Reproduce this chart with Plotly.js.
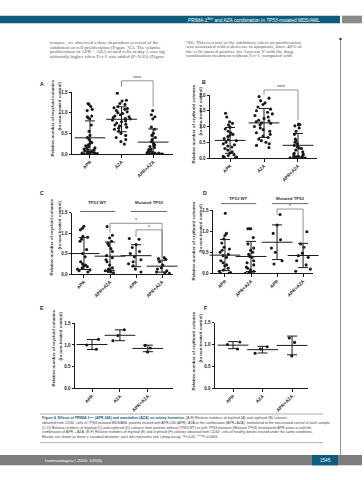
<!DOCTYPE html>
<html><head><meta charset="utf-8">
<script src="https://cdn.plot.ly/plotly-3.0.1.min.js"></script>
<style>html,body{margin:0;padding:0;background:#fff;}#chart{width:364px;height:480px;}</style>
</head><body><div id="chart"></div>
<script>
// ---------------- DATA ----------------
const labels3 = ["APR", "AZA", "APR+AZA"];
const labels4 = ["APR", "APR+AZA", "APR", "APR+AZA"];
const groupLabels = ["TP53 WT", "Mutated TP53"];

// A: myeloid colonies, TP53-mutated samples
const A_APR  = [1.22,1.20,1.15,1.08,1.05,0.92,0.90,0.88,0.85,0.70,0.55,0.45,0.40,0.35,0.30,0.28,0.25,0.22,0.20,0.18,0.15,0.14,0.12,0.10,0.10,0.08,0.07,0.05,0.05,0.04,0.03,0.02,0.02,0.01,0.00,0.00];
const A_AZA  = [1.47,1.30,1.28,1.22,1.20,1.15,1.12,1.10,1.08,1.05,1.02,1.00,0.98,0.95,0.92,0.90,0.88,0.86,0.85,0.82,0.80,0.78,0.75,0.72,0.70,0.68,0.65,0.62,0.60,0.55,0.50,0.45,0.40,0.35,0.30,0.24];
const A_COMB = [1.05,0.95,0.90,0.85,0.65,0.60,0.50,0.45,0.40,0.35,0.30,0.25,0.22,0.20,0.18,0.15,0.12,0.10,0.10,0.08,0.06,0.05,0.04,0.03,0.02,0.02,0.01,0.00,0.00,0.00];
// B: erythroid colonies, TP53-mutated samples
const B_APR  = [1.42,1.30,1.15,1.10,1.05,0.98,0.92,0.85,0.80,0.75,0.72,0.68,0.62,0.58,0.55,0.50,0.45,0.42,0.38,0.35,0.30,0.25,0.20,0.15,0.10,0.08,0.05,0.03,0.02,0.00];
const B_AZA  = [1.95,1.90,1.82,1.75,1.70,1.62,1.55,1.50,1.45,1.40,1.35,1.30,1.25,1.20,1.18,1.15,1.12,1.10,1.05,1.00,0.95,0.90,0.85,0.80,0.75,0.70,0.65,0.60,0.55,0.50,0.45,0.40,0.33];
const B_COMB = [1.08,1.06,1.05,1.02,0.95,0.85,0.75,0.60,0.55,0.50,0.45,0.40,0.35,0.32,0.30,0.25,0.20,0.15,0.12,0.10,0.08,0.05,0.04,0.03,0.02,0.01,0.00,0.00];
// C: myeloid colonies, TP53 WT vs mutated
const C_WT_APR   = [1.17,1.12,1.08,0.92,0.90,0.85,0.80,0.60,0.50,0.42,0.30,0.25,0.22,0.20,0.18,0.15,0.12,0.10,0.08,0.05];
const C_WT_COMB  = [1.16,0.95,0.88,0.80,0.75,0.70,0.62,0.55,0.45,0.40,0.35,0.30,0.22,0.15,0.12,0.10,0.08,0.06,0.05,0.03];
const C_MUT_APR  = [0.87,0.85,0.72,0.65,0.55,0.50,0.42,0.35,0.30,0.25,0.20,0.12,0.05];
const C_MUT_COMB = [0.40,0.38,0.36,0.30,0.22,0.15,0.12,0.08,0.05,0.03,0.02];
// D: erythroid colonies, TP53 WT vs mutated
const D_WT_APR   = [1.43,0.95,0.90,0.82,0.72,0.62,0.58,0.55,0.50,0.45,0.42,0.38,0.30,0.25,0.20,0.18,0.12,0.08,0.05,0.02,0.00,0.00];
const D_WT_COMB  = [1.06,1.06,1.06,0.85,0.70,0.60,0.55,0.50,0.45,0.40,0.38,0.30,0.25,0.20,0.15,0.12,0.08,0.05,0.03,0.02,0.00,0.00];
const D_MUT_APR  = [1.40,1.15,0.95,0.80,0.60,0.50,0.30,0.22];
const D_MUT_COMB = [0.99,0.70,0.62,0.48,0.42,0.38,0.30,0.20,0.10,0.05];
// E: myeloid colonies, healthy donors
const E_APR  = [1.13,1.00,0.90];
const E_AZA  = [1.35,1.22,1.10];
const E_COMB = [0.99,0.93,0.84];
// F: erythroid colonies, healthy donors
const F_APR  = [1.06,1.00,0.90];
const F_AZA  = [0.95,0.90,0.80];
const F_COMB = [1.15,1.05,0.74];

// ---------------- LAYOUT HELPERS ----------------
const W = 364, H = 480;
const px = x => x / W;
const py = y => 1 - y / H;
const FONT = "Liberation Sans, Arial, sans-serif";
const SERIF = "Liberation Serif, Times New Roman, serif";
const INK = "#1a1a1a";
const TEAL = "#0f5d7c";

const myeloid = "Relative number of myeloid colonies";
const erythroid = "Relative number of erythroid colonies";
const ctrl = "(to non-treated control)";

const panels = [
  {letter:"A", lp:[42,84], labels:labels3, groups:[A_APR,A_AZA,A_COMB], xpx:[72,173], ypx:[154,92], xr:[-0.57,2.63], yr:[0,1.5], tv:[0,0.5,1,1.5], t1:myeloid, tx:[52,59], tt:78,
   brackets:[{x0:1,x1:2,y:1.77,e0:1.62,e1:1.14,s:"****"}]},
  {letter:"B", lp:[204,82], labels:labels3, groups:[B_APR,B_AZA,B_COMB], xpx:[210,317], ypx:[158,95], xr:[-0.59,2.56], yr:[0,2], tv:[0,0.5,1,1.5,2], t1:erythroid, tx:[193,200], tt:83,
   brackets:[{x0:1,x1:2,y:2.16,e0:2.0,e1:1.21,s:"****"}]},
  {letter:"C", lp:[42,193], labels:labels4, groups:[C_WT_APR,C_WT_COMB,C_MUT_APR,C_MUT_COMB], xpx:[72,173], ypx:[274,212.7], xr:[-0.46,3.42], yr:[0,1.5], tv:[0,0.5,1,1.5], t1:myeloid, tx:[51,59], tt:197,
   brackets:[{x0:1,x1:3,y:1.24,e0:1.0,e1:0.39,s:"*"},{x0:2,x1:3,y:1.08,e0:0.91,e1:0.39,s:"*"}], glab:{ty:1.75, ly:1.53}},
  {letter:"D", lp:[205,193], labels:labels4, groups:[D_WT_APR,D_WT_COMB,D_MUT_APR,D_MUT_COMB], xpx:[213,313], ypx:[273.3,210.3], xr:[-0.46,3.38], yr:[0,1.5], tv:[0,0.5,1,1.5], t1:erythroid, tx:[193,200], tt:200,
   brackets:[{x0:2,x1:3,y:1.53,e0:1.39,e1:0.58,s:"*"}], glab:{ty:1.78, ly:1.66}},
  {letter:"E", lp:[42,308], labels:labels3, groups:[E_APR,E_AZA,E_COMB], xpx:[75,173], ypx:[388.3,323.3], xr:[-0.61,2.9], yr:[0,1.5], tv:[0,0.5,1,1.5], t1:myeloid, tx:[53,60], tt:308, brackets:[]},
  {letter:"F", lp:[205,308], labels:labels3, groups:[F_APR,F_AZA,F_COMB], xpx:[215,308], ypx:[388.3,322.7], xr:[-0.61,2.54], yr:[0,1.5], tv:[0,0.5,1,1.5], t1:erythroid, tx:[193,200], tt:310, brackets:[]}
];

const mean = a => a.reduce((s,v)=>s+v,0)/a.length;
const sd = a => { const m = mean(a); return Math.sqrt(a.reduce((s,v)=>s+(v-m)*(v-m),0)/(a.length-1)); };

const traces = [];
const layout = {
  width: W, height: H, margin:{l:0,r:0,t:0,b:0}, paper_bgcolor:"#fff", plot_bgcolor:"rgba(0,0,0,0)",
  showlegend:false, font:{family:FONT, color:INK}, shapes:[], annotations:[]
};

panels.forEach((p, i) => {
  const k = i === 0 ? "" : String(i+1);
  const xp = v => px(p.xpx[0] + (v - p.xr[0])/(p.xr[1]-p.xr[0])*(p.xpx[1]-p.xpx[0]));
  const yp = v => py(p.ypx[0] - (v - p.yr[0])/(p.yr[1]-p.yr[0])*(p.ypx[0]-p.ypx[1]));
  const xs = [], ys = [];
  p.groups.forEach((g, gi) => g.forEach(v => { xs.push(gi); ys.push(v); }));
  traces.push({type:"box", x:xs, y:ys, xaxis:"x"+k, yaxis:"y"+k, width:0.7,
    boxpoints:"all", jitter:0.85, pointpos:0, fillcolor:"rgba(0,0,0,0)",
    line:{width:0, color:"rgba(0,0,0,0)"}, marker:{color:INK, size:3.1}, hoverinfo:"skip"});
  const means = p.groups.map(mean), sds = p.groups.map(sd);
  traces.push({type:"scatter", mode:"markers", x:p.groups.map((g,gi)=>gi), y:means, xaxis:"x"+k, yaxis:"y"+k,
    cliponaxis:false, hoverinfo:"skip",
    marker:{symbol:"line-ew", size:22, color:INK, line:{width:1, color:INK}},
    error_y:{type:"data", symmetric:false, array:sds, arrayminus:sds.map((s,j)=>Math.min(s, means[j]-p.yr[0])), width:5, thickness:1, color:INK}});

  layout["xaxis"+k] = {domain:[px(p.xpx[0]), px(p.xpx[1])], anchor:"y"+k, range:p.xr, showline:true, linecolor:INK, linewidth:1,
    ticks:"outside", ticklen:2.5, tickwidth:1, tickcolor:INK, tickvals:p.labels.map((l,j)=>j), ticktext:p.labels, tickangle:-45,
    tickfont:{size:4.6, family:FONT, color:INK, weight:"bold"}, showgrid:false, zeroline:false, fixedrange:true};
  layout["yaxis"+k] = {domain:[py(p.ypx[0]), py(p.ypx[1])], anchor:"x"+k, range:p.yr, showline:true, linecolor:INK, linewidth:1,
    ticks:"outside", ticklen:2.5, tickwidth:1, tickcolor:INK, tickvals:p.tv, tickformat:".1f",
    tickfont:{size:4.6, family:FONT, color:INK, weight:"bold"}, showgrid:false, zeroline:false, fixedrange:true};

  // panel letter
  layout.annotations.push({xref:"paper", yref:"paper", x:px(p.lp[0]), y:py(p.lp[1]), text:"<b>"+p.letter+"</b>", showarrow:false, font:{size:5.2, family:FONT, color:INK}, xanchor:"center", yanchor:"middle"});
  // y titles
  layout.annotations.push({xref:"paper", yref:"paper", x:px(p.tx[0]), y:py(p.tt), text:"<b>"+p.t1+"</b>", textangle:-90, showarrow:false, font:{size:4.4, family:FONT, color:"#333"}, xanchor:"center", yanchor:"top"});
  layout.annotations.push({xref:"paper", yref:"paper", x:px(p.tx[1]), y:py(p.tt+2), text:"<b>"+ctrl+"</b>", textangle:-90, showarrow:false, font:{size:4.4, family:FONT, color:"#333"}, xanchor:"center", yanchor:"top"});
  // significance brackets
  p.brackets.forEach(b => {
    const ln = {type:"line", xref:"paper", yref:"paper", line:{color:"#666", width:0.7}};
    layout.shapes.push(Object.assign({}, ln, {x0:xp(b.x0), x1:xp(b.x1), y0:yp(b.y), y1:yp(b.y)}));
    layout.shapes.push(Object.assign({}, ln, {x0:xp(b.x0), x1:xp(b.x0), y0:yp(b.y), y1:yp(b.e0)}));
    layout.shapes.push(Object.assign({}, ln, {x0:xp(b.x1), x1:xp(b.x1), y0:yp(b.y), y1:yp(b.e1)}));
    layout.annotations.push({xref:"paper", yref:"paper", x:(xp(b.x0)+xp(b.x1))/2, y:yp(b.y), text:b.s, showarrow:false, font:{size:5.2, family:FONT, color:"#444"}, xanchor:"center", yanchor:"bottom", yshift:-2});
  });
  // group labels
  if (p.glab) {
    [[-0.15,1.2],[1.8,3.2]].forEach((r, gi) => {
      layout.shapes.push({type:"line", xref:"paper", yref:"paper", x0:xp(r[0]), x1:xp(r[1]), y0:yp(p.glab.ly), y1:yp(p.glab.ly), line:{color:"#444", width:0.8}});
      layout.annotations.push({xref:"paper", yref:"paper", x:(xp(r[0])+xp(r[1]))/2, y:yp(p.glab.ty), text:"<b>"+groupLabels[gi]+"</b>", showarrow:false, font:{size:4.3, family:FONT, color:"#333"}, xanchor:"center", yanchor:"middle"});
    });
  }
});

// ---------------- PAGE FURNITURE ----------------
const rect = (x0,y0,x1,y1,c) => ({type:"rect", xref:"paper", yref:"paper", x0:px(x0), x1:px(x1), y0:py(y1), y1:py(y0), fillcolor:c, line:{width:0}, layer:"below"});
const hline = (x0,x1,y,c,w) => ({type:"line", xref:"paper", yref:"paper", x0:px(x0), x1:px(x1), y0:py(y), y1:py(y), line:{color:c, width:w}});
const txt = (x,y,t,opt) => Object.assign({xref:"paper", yref:"paper", x:px(x), y:py(y), text:t, showarrow:false, xanchor:"left", yanchor:"middle", font:{size:4.6, family:SERIF, color:"#555"}}, opt||{});

layout.shapes.push(rect(0,15.7,340,23.3,TEAL));
layout.shapes.push(rect(342,15.7,362,23.3,"#8a8a8a"));
layout.annotations.push(txt(322,19.6,"PRIMA-1<sup>Met</sup> and AZA combination in <i>TP53</i>-mutated MDS/AML",{xanchor:"right", font:{size:4.8, family:FONT, color:"#fff"}}));

// right margin rule with dot
layout.shapes.push({type:"line", xref:"paper", yref:"paper", x0:px(340.5), x1:px(340.5), y0:py(39), y1:py(455), line:{color:"#666", width:0.7}});
layout.shapes.push({type:"circle", xref:"paper", yref:"paper", x0:px(339.2), x1:px(341.8), y0:py(40.3), y1:py(37.7), fillcolor:"#444", line:{width:0}});

// body text
const leftCol = ["tenance, we observed a dose-dependent reversal of the",
  "inhibition of cell proliferation (Figure 7C). The relative",
  "proliferation of APR + AZA treated cells at day 5 was sig-",
  "nificantly higher when Fer-1 was added (P<0.05) (Figure"];
const rightCol = ["7D). This reversal of the inhibitory effect on proliferation",
  "was associated with a decrease in apoptosis, since 40% of",
  "the cells stained positive for Annexin V with the drug",
  "combination treatment without Fer-1, compared with"];
const lineY = [42.7, 47.3, 51.9, 56.5];
leftCol.forEach((t,j) => layout.annotations.push(txt(48, lineY[j], t, {font:{size:5.0, family:SERIF, color:"#555"}})));
rightCol.forEach((t,j) => layout.annotations.push(txt(184, lineY[j], t, {font:{size:5.0, family:SERIF, color:"#555"}})));

// caption
layout.shapes.push(hline(40,323,414,"#7a8f98",0.7));
layout.shapes.push(hline(40,323,442.7,"#7a8f98",0.7));
const caption = [
  "<span style='color:" + TEAL + "'><b>Figure 4. Effects of PRIMA-1<sup>Met</sup> (APR-246) and azacitidine (AZA) on colony formation.</b></span> (A-B) Relative numbers of myeloid (A) and erythroid (B) colonies",
  "obtained from CD34<sup>+</sup> cells of <i>TP53</i>-mutated MDS/AML patients treated with APR-246 (APR), AZA or the combination (APR+AZA), normalized to the non-treated control of each sample.",
  "(C-D) Relative numbers of myeloid (C) and erythroid (D) colonies from patients without (<i>TP53</i> WT) or with <i>TP53</i> mutation (Mutated <i>TP53</i>) treated with APR alone or with the",
  "combination of APR + AZA. (E-F) Relative numbers of myeloid (E) and erythroid (F) colonies obtained from CD34<sup>+</sup> cells of healthy donors treated under the same conditions.",
  "Results are shown as mean ± standard deviation; each dot represents one colony assay. *P<0.05; ****P<0.0001."
];
const capY = [418.3, 423, 427.7, 432.4, 437.1];
caption.forEach((t,j) => layout.annotations.push(txt(40, capY[j], t, {font:{size:3.55, family:FONT, color:"#444"}})));

// footer
layout.shapes.push(rect(0,455,362,465.3,"#7d7d7d"));
layout.shapes.push(rect(312,455,338,465.3,TEAL));
layout.annotations.push(txt(43,460.2,"haematologica | 2020; 105(6)",{font:{size:4.4, family:FONT, color:"#fff"}}));
layout.annotations.push(txt(325,460.2,"1545",{xanchor:"center", font:{size:4.6, family:FONT, color:"#fff"}}));

Plotly.newPlot("chart", traces, layout, {staticPlot:true, displayModeBar:false});
</script>
</body></html>
